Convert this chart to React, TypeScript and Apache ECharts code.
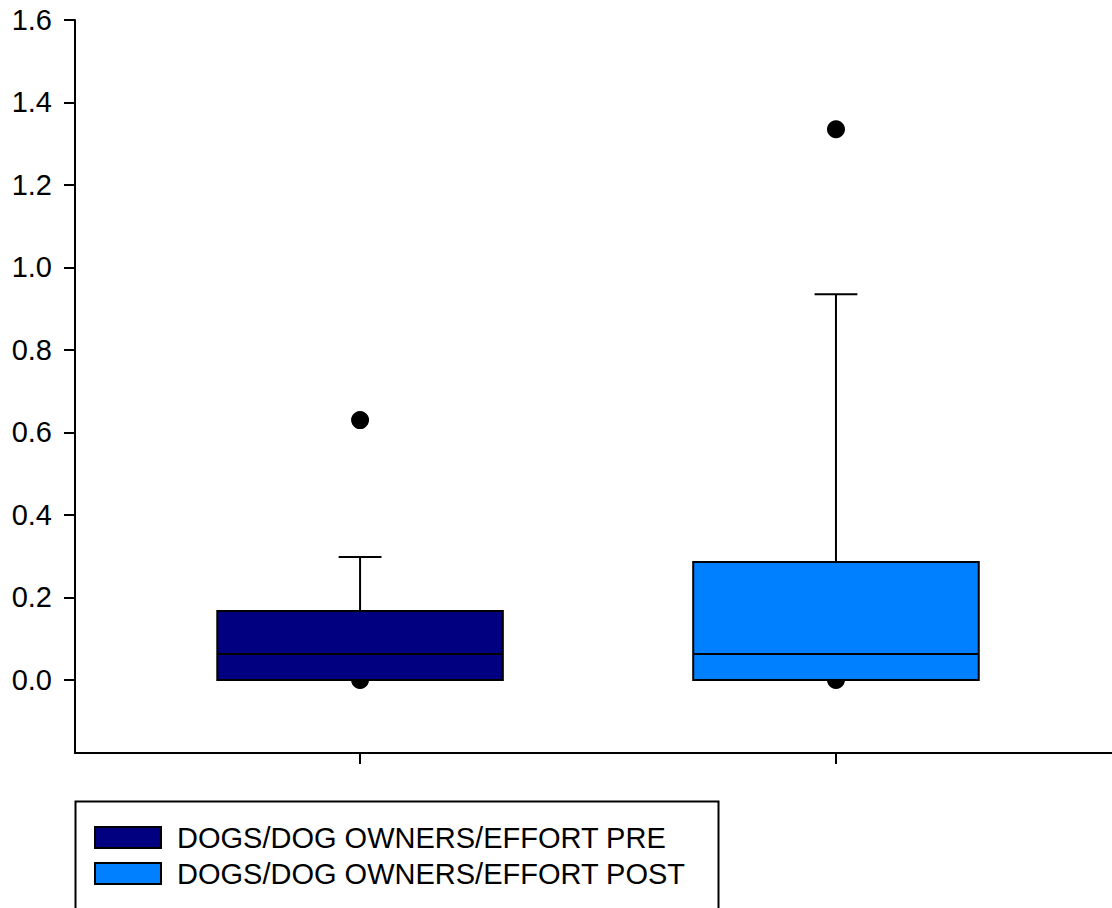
import React, { useEffect, useRef } from "react";
import * as echarts from "echarts";

// ---- data ----
const seriesNames = ["DOGS/DOG OWNERS/EFFORT PRE", "DOGS/DOG OWNERS/EFFORT POST"];
const seriesColors = ["#000080", "#0080FF"];
// [position, min, Q1, median, Q3, max]
const preBox = [0, 0, 0, 0.063, 0.167, 0.298];
const postBox = [1, 0, 0, 0.063, 0.286, 0.935];
const preOutliers = [
  [0, 0.63],
  [0, 0.0],
];
const postOutliers = [
  [1, 1.335],
  [1, 0.0],
];
const yTicks = [0, 0.2, 0.4, 0.6, 0.8, 1.0, 1.2, 1.4, 1.6];
const xTicks = [0, 1];

const FONT = 'Arial, "Liberation Sans", Helvetica, sans-serif';
const BOX_W = 0.6; // in x-axis units
const CAP_W = 0.09;

function renderBox(params: any, api: any) {
  const x = api.value(0);
  const lo = api.coord([x, api.value(1)]);
  const q1 = api.coord([x, api.value(2)]);
  const med = api.coord([x, api.value(3)]);
  const q3 = api.coord([x, api.value(4)]);
  const hi = api.coord([x, api.value(5)]);
  const hb = api.size([BOX_W, 0])[0] / 2;
  const hc = api.size([CAP_W, 0])[0] / 2;
  const cx = lo[0];
  const color = api.visual("color");
  const ls = { stroke: "#000", lineWidth: 2 };
  return {
    type: "group",
    children: [
      { type: "line", shape: { x1: cx, y1: q3[1], x2: cx, y2: hi[1] }, style: ls },
      { type: "line", shape: { x1: cx, y1: q1[1], x2: cx, y2: lo[1] }, style: ls },
      {
        type: "rect",
        shape: { x: cx - hb, y: q3[1], width: hb * 2, height: q1[1] - q3[1] },
        style: { fill: color, stroke: "#000", lineWidth: 2 },
      },
      { type: "line", shape: { x1: cx - hb, y1: med[1], x2: cx + hb, y2: med[1] }, style: ls },
      { type: "line", shape: { x1: cx - hc, y1: hi[1], x2: cx + hc, y2: hi[1] }, style: ls },
      { type: "line", shape: { x1: cx - hc, y1: lo[1], x2: cx + hc, y2: lo[1] }, style: ls },
    ],
  };
}

export default function App() {
  const ref = useRef<HTMLDivElement>(null);
  useEffect(() => {
    if (!ref.current) return;
    const chart = echarts.init(ref.current, undefined, { renderer: "svg" });
    chart.setOption({
      animation: false,
      backgroundColor: "#fff",
      grid: { left: 75, top: 20, right: 0, bottom: 155, containLabel: false },
      xAxis: {
        type: "value",
        min: -0.599,
        max: 1.58,
        axisLine: { show: true, onZero: false, lineStyle: { color: "#000", width: 2 } },
        axisTick: { show: true, customValues: xTicks, length: 11, lineStyle: { color: "#000", width: 2 } },
        axisLabel: { show: false },
        splitLine: { show: false },
      },
      yAxis: {
        type: "value",
        min: -0.177,
        max: 1.6,
        axisLine: { show: true, onZero: false, lineStyle: { color: "#000", width: 2 } },
        axisTick: { show: true, customValues: yTicks, length: 11, lineStyle: { color: "#000", width: 2 } },
        axisLabel: {
          show: true,
          customValues: yTicks,
          formatter: (v: number) => v.toFixed(1),
          color: "#000",
          fontSize: 29,
          fontFamily: FONT,
          margin: 23,
        },
        splitLine: { show: false },
      },
      graphic: [
        {
          type: "rect",
          left: 73,
          top: 799,
          shape: { width: 643, height: 140 },
          style: { fill: "none", stroke: "#000", lineWidth: 2 },
          silent: true,
        },
      ],
      legend: {
        orient: "vertical",
        left: 94,
        top: 823,
        padding: 0,
        itemWidth: 66,
        itemHeight: 21,
        itemGap: 7,
        icon: "rect",
        selectedMode: false,
        data: seriesNames,
        itemStyle: { borderColor: "#000", borderWidth: 2 },
        textStyle: {
          color: "#000",
          fontSize: 29,
          fontFamily: FONT,
          lineHeight: 21,
          padding: [0, 0, 0, 11],
        },
      },
      series: [
        {
          name: seriesNames[0],
          type: "custom",
          z: 3,
          renderItem: renderBox,
          encode: { x: 0, y: [1, 2, 3, 4, 5] },
          itemStyle: { color: seriesColors[0], borderColor: "#000" },
          data: [preBox],
        },
        {
          name: seriesNames[1],
          type: "custom",
          z: 3,
          renderItem: renderBox,
          encode: { x: 0, y: [1, 2, 3, 4, 5] },
          itemStyle: { color: seriesColors[1], borderColor: "#000" },
          data: [postBox],
        },
        {
          type: "scatter",
          z: 1,
          symbol: "circle",
          symbolSize: 18,
          itemStyle: { color: "#000", opacity: 1 },
          data: preOutliers.concat(postOutliers),
        },
      ],
    });
    return () => chart.dispose();
  }, []);
  return (
    <div
      ref={ref}
      style={{ position: "fixed", left: 0, top: 0, width: 1112, height: 908 }}
    />
  );
}
